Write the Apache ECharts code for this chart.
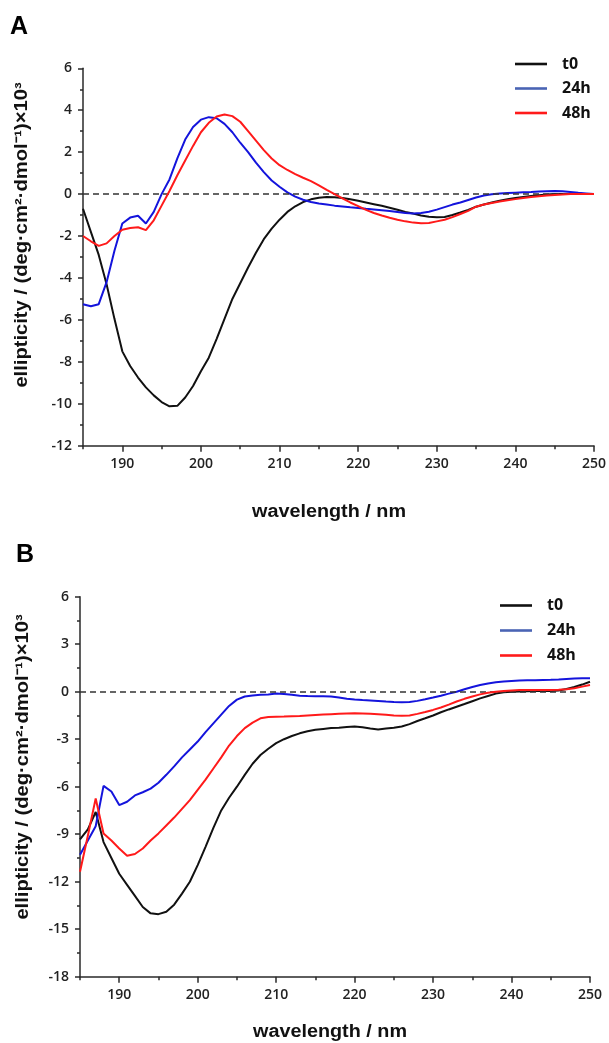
<!DOCTYPE html>
<html>
<head>
<meta charset="utf-8">
<script src="https://cdn.jsdelivr.net/npm/echarts@6/dist/echarts.min.js"></script>
<style>
html,body{margin:0;padding:0;background:#fff;}
#chart{width:609px;height:1043px;}
</style>
</head>
<body>
<div id="chart"></div>
<script>
// wavelength (nm)
const wavelengths = [185,186,187,188,189,190,191,192,193,194,195,196,197,198,199,200,201,202,203,204,205,206,207,208,209,210,211,212,213,214,215,216,217,218,219,220,221,222,223,224,225,226,227,228,229,230,231,232,233,234,235,236,237,238,239,240,241,242,243,244,245,246,247,248,249,250];

// Panel A
const aT0 = [-0.7,-1.8,-2.9,-4.3,-5.95,-7.5,-8.2,-8.75,-9.22,-9.6,-9.92,-10.12,-10.1,-9.7,-9.15,-8.45,-7.8,-6.9,-5.95,-5.0,-4.25,-3.5,-2.8,-2.15,-1.65,-1.22,-0.85,-0.58,-0.38,-0.25,-0.17,-0.14,-0.15,-0.19,-0.25,-0.32,-0.4,-0.48,-0.56,-0.65,-0.75,-0.85,-0.93,-1.02,-1.08,-1.1,-1.09,-1.0,-0.88,-0.75,-0.6,-0.5,-0.4,-0.32,-0.25,-0.19,-0.14,-0.09,-0.05,-0.02,0,0.01,0.01,0,0,0];
const a24h = [-5.25,-5.35,-5.25,-4.2,-2.7,-1.4,-1.12,-1.03,-1.4,-0.85,0,0.7,1.7,2.6,3.2,3.55,3.67,3.62,3.35,2.95,2.45,2.0,1.5,1.05,0.65,0.35,0.08,-0.12,-0.27,-0.38,-0.45,-0.5,-0.55,-0.59,-0.63,-0.66,-0.7,-0.73,-0.77,-0.81,-0.85,-0.9,-0.92,-0.9,-0.84,-0.74,-0.62,-0.5,-0.4,-0.28,-0.16,-0.07,-0.01,0.03,0.05,0.07,0.09,0.1,0.12,0.14,0.15,0.14,0.1,0.06,0.03,0];
const a48h = [-2.0,-2.25,-2.47,-2.35,-2.0,-1.7,-1.62,-1.58,-1.72,-1.25,-0.55,0.15,0.9,1.6,2.3,2.95,3.4,3.7,3.8,3.72,3.45,3.0,2.55,2.1,1.7,1.38,1.15,0.95,0.78,0.62,0.42,0.2,0.0,-0.2,-0.4,-0.57,-0.75,-0.9,-1.02,-1.13,-1.22,-1.3,-1.36,-1.39,-1.38,-1.3,-1.22,-1.1,-0.95,-0.8,-0.6,-0.5,-0.42,-0.35,-0.29,-0.24,-0.19,-0.14,-0.1,-0.07,-0.04,-0.02,0,0,0,0];

// Panel B
const bT0 = [-9.33,-8.7,-7.6,-9.5,-10.5,-11.5,-12.2,-12.9,-13.6,-14.0,-14.05,-13.9,-13.45,-12.75,-12.0,-10.95,-9.8,-8.6,-7.5,-6.7,-6.0,-5.25,-4.55,-4.0,-3.6,-3.25,-3.0,-2.8,-2.63,-2.5,-2.4,-2.35,-2.3,-2.27,-2.23,-2.2,-2.25,-2.33,-2.38,-2.33,-2.28,-2.2,-2.05,-1.85,-1.68,-1.5,-1.3,-1.12,-0.95,-0.78,-0.6,-0.42,-0.27,-0.12,-0.04,0,0.02,0.03,0.04,0.05,0.05,0.08,0.17,0.3,0.45,0.63];
const b24h = [-10.3,-9.4,-8.5,-5.95,-6.3,-7.16,-6.95,-6.55,-6.35,-6.12,-5.75,-5.25,-4.72,-4.15,-3.65,-3.15,-2.55,-2.0,-1.45,-0.9,-0.5,-0.3,-0.24,-0.2,-0.17,-0.12,-0.15,-0.2,-0.25,-0.27,-0.28,-0.28,-0.3,-0.37,-0.45,-0.5,-0.53,-0.55,-0.58,-0.62,-0.65,-0.67,-0.65,-0.58,-0.48,-0.37,-0.25,-0.12,0,0.15,0.3,0.42,0.52,0.6,0.65,0.68,0.7,0.72,0.73,0.74,0.75,0.77,0.8,0.83,0.85,0.85];
const b48h = [-11.37,-9.1,-6.74,-8.95,-9.4,-9.9,-10.36,-10.25,-9.9,-9.4,-8.95,-8.45,-7.95,-7.4,-6.85,-6.2,-5.55,-4.85,-4.15,-3.4,-2.8,-2.3,-1.95,-1.68,-1.6,-1.58,-1.57,-1.55,-1.54,-1.5,-1.47,-1.44,-1.42,-1.4,-1.38,-1.36,-1.38,-1.4,-1.42,-1.45,-1.5,-1.52,-1.5,-1.4,-1.28,-1.15,-1.0,-0.82,-0.62,-0.45,-0.3,-0.17,-0.07,0,0.05,0.08,0.1,0.1,0.1,0.1,0.1,0.12,0.15,0.22,0.32,0.42];

const seriesNames = ['t0','24h','48h'];
const xMajorTicks = [190,200,210,220,230,240,250];
const xMinorTicks = [185,195,205,215,225,235,245];
const yRangeA = [-12, 6, 2];
const yRangeB = [-18, 6, 3];
const xTitle = 'wavelength / nm';
const yTitle = 'ellipticity / (deg·cm²·dmol⁻¹)×10³';
const panelLabels = ['A','B'];

const colors = ['#111111','#1414dc','#ff1a1a'];
const legendColors = ['#111111','#4a64b4','#ff1a1a'];
const axisColor = '#2a2a2a';
const labelFont = {color:'#222', fontSize:14, fontWeight:600, fontFamily:'Open Sans'};

function pairs(vals){ return wavelengths.map((w,i)=>[w, vals[i]]); }

const grids = [
  {left:83, top:68.3, width:511.5, height:377.4},
  {left:80, top:596.7, width:510, height:380}
];

function xAxesFor(g){
  return [
    {gridIndex:g, type:'value', min:185, max:250, position:'bottom',
     axisLine:{onZero:false, lineStyle:{color:axisColor, width:1.5}},
     axisTick:{customValues:xMajorTicks, length:6, lineStyle:{color:axisColor, width:1.5}},
     axisLabel:Object.assign({customValues:xMajorTicks, margin:11}, labelFont),
     splitLine:{show:false}},
    {gridIndex:g, type:'value', min:185, max:250, position:'bottom',
     axisLine:{show:false, onZero:false},
     axisTick:{customValues:xMinorTicks, length:3.5, lineStyle:{color:axisColor, width:1.5}},
     axisLabel:{show:false},
     splitLine:{show:false}}
  ];
}
function yAxisFor(g, r){
  return {gridIndex:g, type:'value', min:r[0], max:r[1], interval:r[2],
    axisLine:{show:true, onZero:false, lineStyle:{color:axisColor, width:1.5}},
    axisTick:{show:true, length:5, lineStyle:{color:axisColor, width:1.5}},
    minorTick:{show:true, splitNumber:2, length:3, lineStyle:{color:axisColor, width:1.5}},
    axisLabel:Object.assign({margin:11}, labelFont),
    splitLine:{show:false}, minorSplitLine:{show:false}};
}

const zeroLine = {silent:true, symbol:['none','none'], label:{show:false},
  lineStyle:{color:'#333', type:[6,4], width:1.5}, data:[{yAxis:0}], animation:false};

function seriesFor(g, datasets){
  return datasets.map((d,i)=>{
    const s = {name:seriesNames[i], type:'line', xAxisIndex:g*2, yAxisIndex:g,
      data:pairs(d), symbol:'none', smooth:false, animation:false,
      lineStyle:{color:colors[i], width:2}, itemStyle:{color:colors[i]}, z:3+i};
    if(i===0) s.markLine = zeroLine;
    return s;
  });
}

function legendFor(left, top, gap){
  return {orient:'vertical', left:left, top:top, padding:0, itemGap:gap,
    itemWidth:32, itemHeight:14, selectedMode:false,
    icon:'path://M0,0H32V2.6H0Z', symbolKeepAspect:true,
    textStyle:{color:'#111', fontSize:16, fontWeight:700, fontFamily:'Open Sans', padding:[0,0,0,10]},
    data:seriesNames.map((n,i)=>({name:n, itemStyle:{color:legendColors[i], borderWidth:0}}))};
}

const titleFont = {fontSize:18, fontWeight:'bold', fontFamily:'Liberation Sans', fill:'#111'};

const option = {
  backgroundColor:'#fff',
  animation:false,
  grid: grids,
  xAxis: xAxesFor(0).concat(xAxesFor(1)),
  yAxis: [yAxisFor(0, yRangeA), yAxisFor(1, yRangeB)],
  legend: [legendFor(515, 56, 8.5), legendFor(500, 597.5, 9)],
  series: seriesFor(0,[aT0,a24h,a48h]).concat(seriesFor(1,[bT0,b24h,b48h])),
  graphic: [
    {type:'text', left:10, top:15, style:{text:panelLabels[0], fontSize:25, fontWeight:'bold', fontFamily:'Liberation Sans', fill:'#000'}},
    {type:'text', left:16, top:543, style:{text:panelLabels[1], fontSize:25, fontWeight:'bold', fontFamily:'Liberation Sans', fill:'#000'}},
    {type:'text', x:329, y:512, scaleX:1.1, style:Object.assign({text:xTitle, align:'center', verticalAlign:'middle'}, titleFont)},
    {type:'text', x:330, y:1032, scaleX:1.1, style:Object.assign({text:xTitle, align:'center', verticalAlign:'middle'}, titleFont)},
    {type:'text', x:22.5, y:235, rotation:Math.PI/2, scaleX:1.12, style:Object.assign({text:yTitle, align:'center', verticalAlign:'middle'}, titleFont)},
    {type:'text', x:23, y:767, rotation:Math.PI/2, scaleX:1.12, style:Object.assign({text:yTitle, align:'center', verticalAlign:'middle'}, titleFont)}
  ]
};

const chart = echarts.init(document.getElementById('chart'), null, {renderer:'canvas'});
chart.setOption(option);
</script>
</body>
</html>
